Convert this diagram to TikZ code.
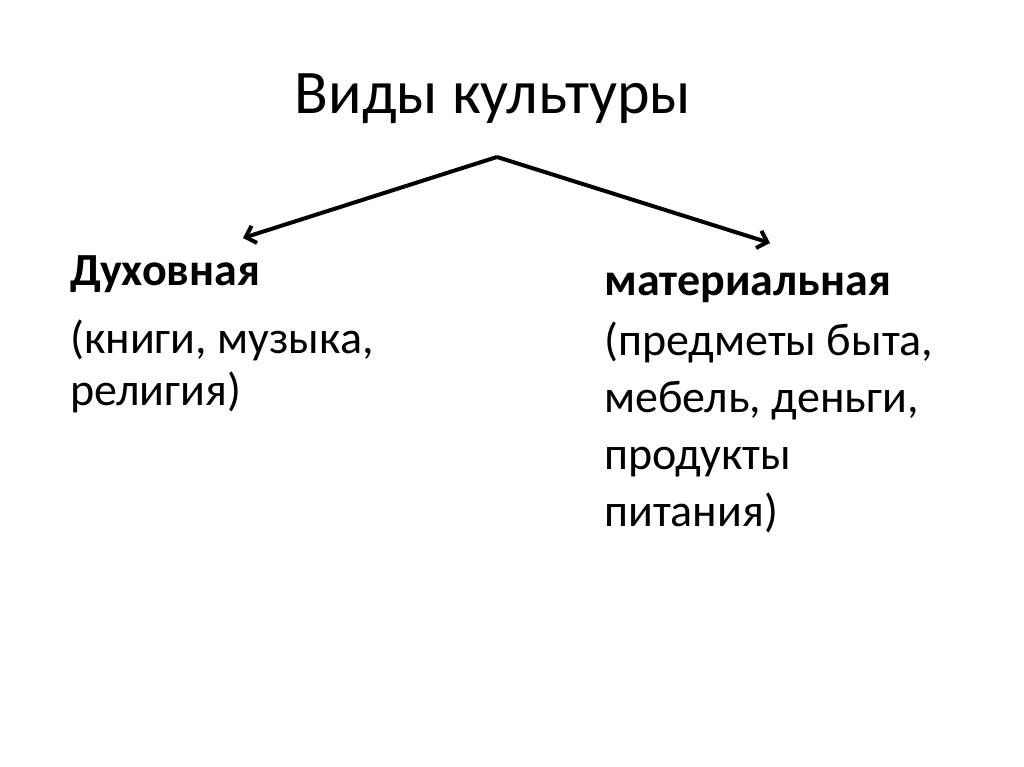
\documentclass[tikz,border=0pt]{standalone}
\usepackage{fontspec}
\setmainfont{Carlito}
\usetikzlibrary{arrows.meta}
\begin{document}
\begin{tikzpicture}[x=1pt,y=-1pt,
  titletext/.style={font=\fontsize{62}{74}\selectfont, inner sep=0pt, anchor=base},
  headtext/.style={font=\bfseries\fontsize{46}{55}\selectfont, inner sep=0pt, anchor=base west},
  desctext/.style={font=\fontsize{46}{52}\selectfont, inner sep=0pt, anchor=base west, align=left},
  desctextr/.style={font=\fontsize{46}{57}\selectfont, inner sep=0pt, anchor=base west, align=left},
  branch/.style={line width=4pt, line join=miter, -{Straight Barb[length=9pt,width=18pt,line width=4pt]}}]
\useasboundingbox[fill=white] (0,0) rectangle (1024,767);
\node[titletext] (title) at (493,114) {Виды культуры};
\coordinate (apex) at (497,157);
\coordinate (ltip) at (243,238);
\coordinate (rtip) at (770,243);
\draw[branch] (apex) -- (ltip);
\draw[branch] (apex) -- (rtip);
\node[headtext] (spirit) at (70,285) {Духовная};
\node[desctext] (spiritdesc) at (70,405) {(книги, музыка,\\религия)};
\node[headtext] (material) at (604,295) {материальная};
\node[desctextr] (materialdesc) at (604,526) {(предметы быта,\\мебель, деньги,\\продукты\\питания)};
\end{tikzpicture}
\end{document}
